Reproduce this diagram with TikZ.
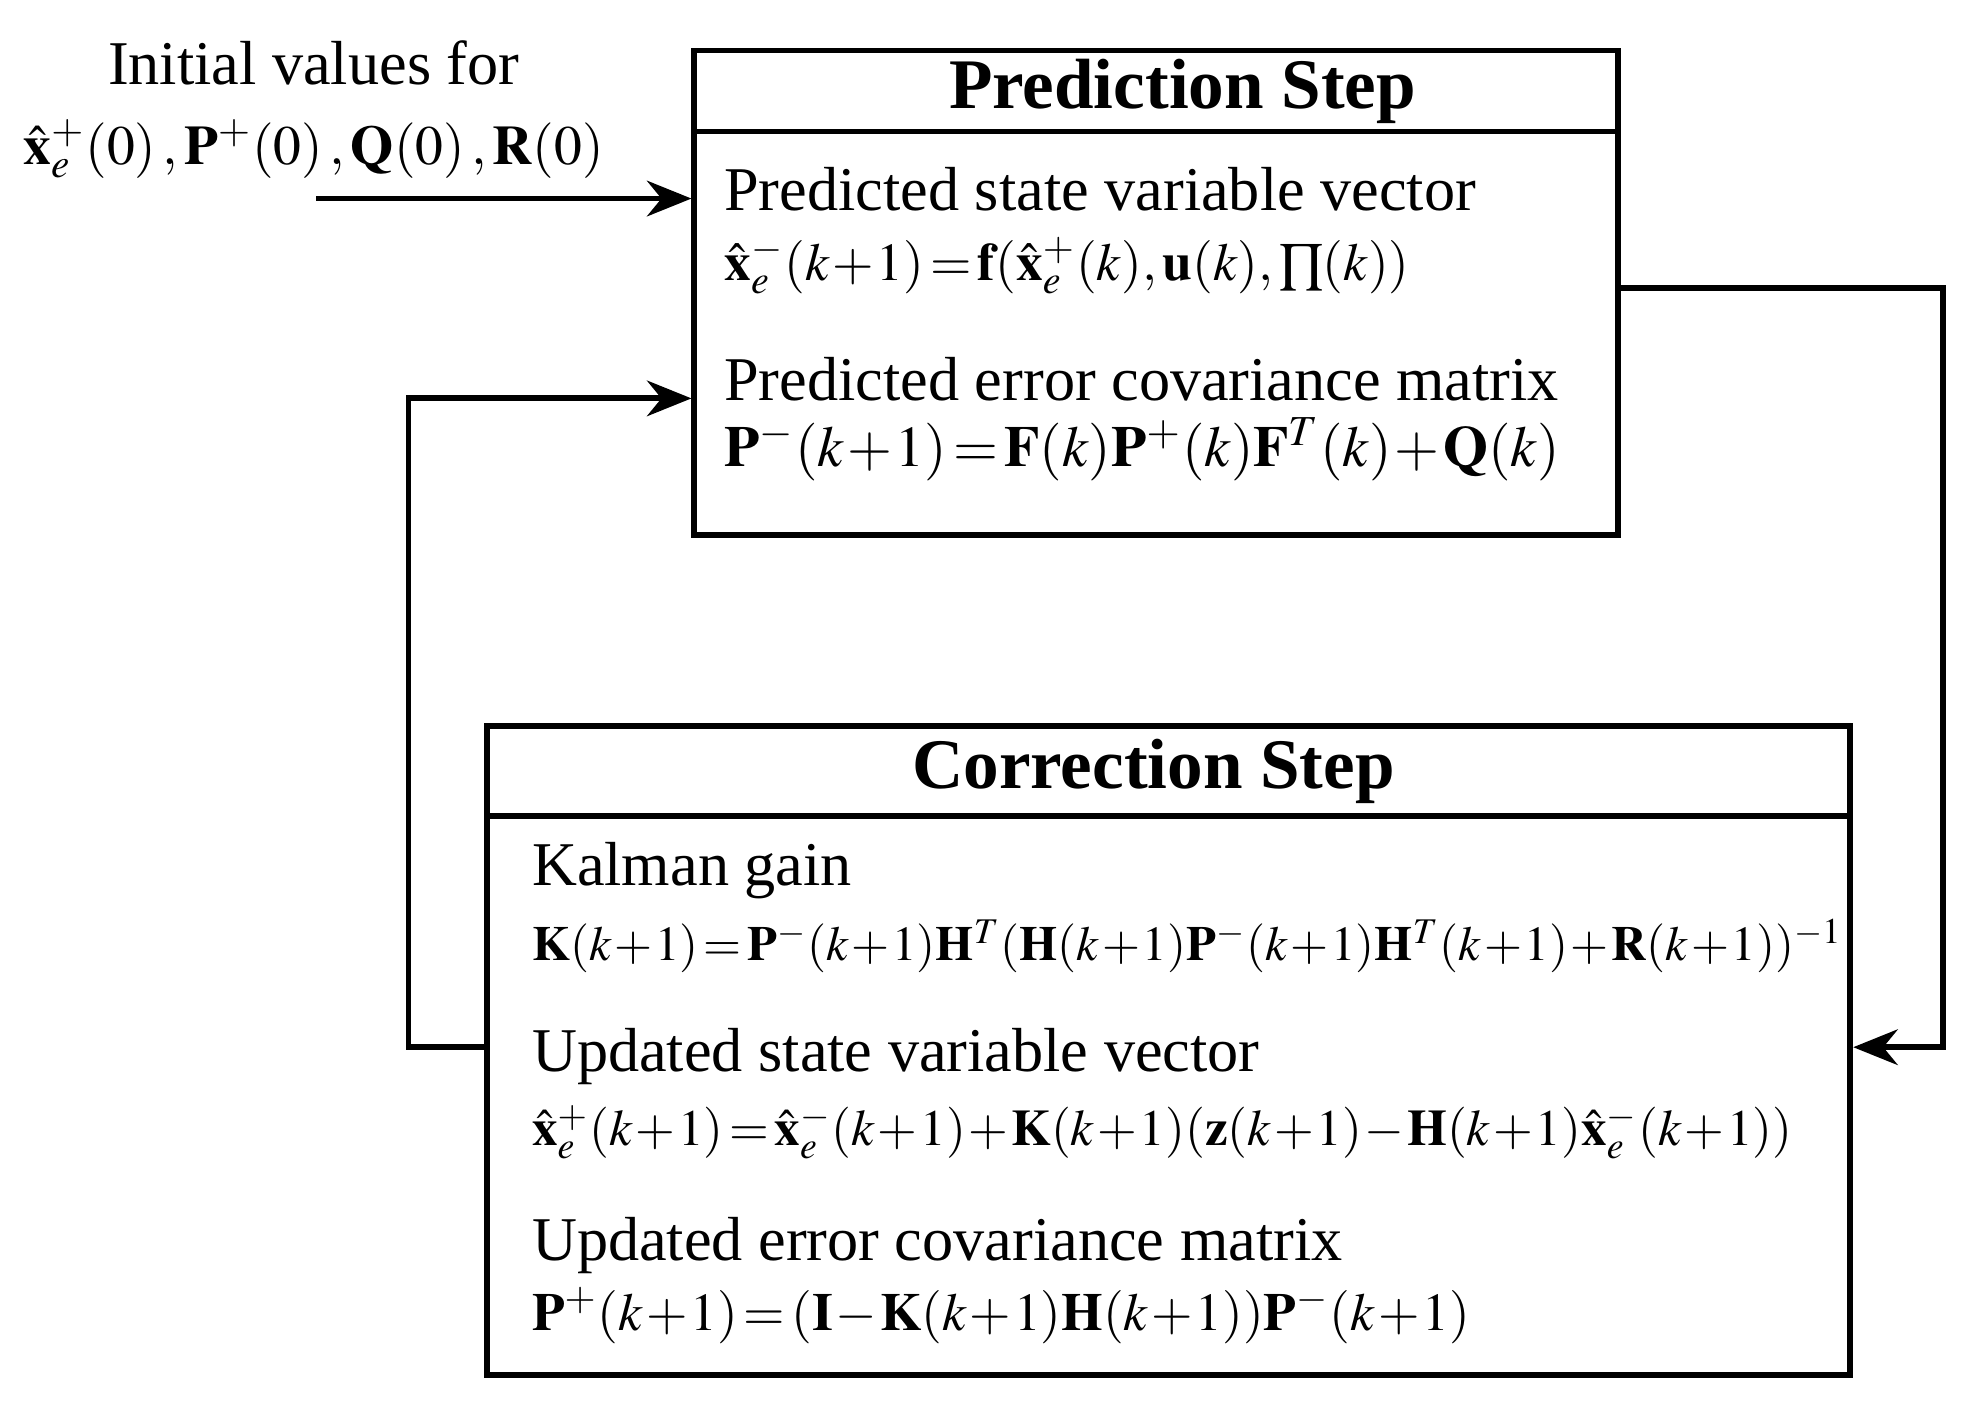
\documentclass[tikz,border=0pt]{standalone}
\usepackage{amsmath}
\usepackage{mathptmx}
\usepackage{fontspec}
\setmainfont{Liberation Serif}
\usetikzlibrary{arrows.meta}
\tikzset{
  box/.style={draw, line width=1.3pt, inner sep=0pt},
  lbl/.style={anchor=west, font=\fontsize{14}{16}\selectfont, inner sep=0pt},
  eqn/.style={anchor=west, font=\fontsize{12}{14}\selectfont, inner sep=0pt,
    execute at begin node={\medmuskip=1mu\thickmuskip=2mu}},
  head/.style={font=\fontsize{16}{18}\selectfont\bfseries, inner sep=0pt},
  flow/.style={line width=1.3pt, -{Stealth[length=10pt,width=8pt]}}
}
\begin{document}
\begin{tikzpicture}
  \useasboundingbox (0,0) rectangle (15.6,11.2);
  % boxes
  \node[box, minimum width=7.30cm, minimum height=3.83cm] (pred) at (9.14,8.885) {};
  \node[box, minimum width=10.78cm, minimum height=5.13cm] (corr) at (9.24,2.895) {};
  \draw[line width=1.3pt] (pred.west |- 0,10.16) -- (pred.east |- 0,10.16);
  \draw[line width=1.3pt] (corr.west |- 0,4.75) -- (corr.east |- 0,4.75);
  \node[head] (predhead) at (9.35,10.48) {Prediction Step};
  \node[head] (corrhead) at (9.12,5.10) {Correction Step};

  % initial values
  \node[font=\fontsize{14}{16}\selectfont] (init) at (2.48,10.70) {Initial values for};
  \node[eqn, anchor=center, font=\fontsize{12.5}{15}\selectfont] (initeq) at (2.48,10.02)
    {$\hat{\mathbf{x}}_e^+(0)\,,\mathbf{P}^+(0)\,,\mathbf{Q}(0)\,,\mathbf{R}(0)$};

  % prediction contents
  \node[lbl] (t1) at (5.72,9.70) {Predicted state variable vector};
  \node[eqn] (e1) at (5.72,9.10) {$\hat{\mathbf{x}}_e^-(k+1)=\mathbf{f}(\hat{\mathbf{x}}_e^+(k),\mathbf{u}(k),\textstyle\prod(k))$};
  \node[lbl] (t2) at (5.72,8.20) {Predicted error covariance matrix};
  \node[eqn, font=\fontsize{13}{15}\selectfont] (e2) at (5.72,7.65) {$\mathbf{P}^-(k+1)=\mathbf{F}(k)\mathbf{P}^+(k)\mathbf{F}^T(k)+\mathbf{Q}(k)$};

  % correction contents
  \node[lbl] (t3) at (4.20,4.32) {Kalman gain};
  \node[eqn, font=\fontsize{11}{14}\selectfont] (e3) at (4.20,3.72) {$\mathbf{K}(k+1)=\mathbf{P}^-(k+1)\mathbf{H}^T(\mathbf{H}(k+1)\mathbf{P}^-(k+1)\mathbf{H}^T(k+1)+\mathbf{R}(k+1))^{-1}$};
  \node[lbl] (t4) at (4.20,2.85) {Updated state variable vector};
  \node[eqn, font=\fontsize{11.5}{14}\selectfont] (e4) at (4.20,2.25) {$\hat{\mathbf{x}}_e^+(k+1)=\hat{\mathbf{x}}_e^-(k+1)+\mathbf{K}(k+1)(\mathbf{z}(k+1)-\mathbf{H}(k+1)\hat{\mathbf{x}}_e^-(k+1))$};
  \node[lbl] (t5) at (4.20,1.35) {Updated error covariance matrix};
  \node[eqn] (e5) at (4.20,0.80) {$\mathbf{P}^+(k+1)=(\mathbf{I}-\mathbf{K}(k+1)\mathbf{H}(k+1))\mathbf{P}^-(k+1)$};

  % connectors
  \coordinate (start) at (2.50,9.63);
  \draw[flow] (start) -- (start -| pred.west);
  \coordinate (lback) at (3.23,2.92);
  \draw[flow] (corr.west |- lback) -- (lback) -- (3.23,8.05) -- (pred.west |- 0,8.05);
  \coordinate (rback) at (15.36,8.92);
  \draw[flow] (pred.east |- rback) -- (rback) -- (15.36,2.92) -- (corr.east |- 0,2.92);
\end{tikzpicture}
\end{document}
